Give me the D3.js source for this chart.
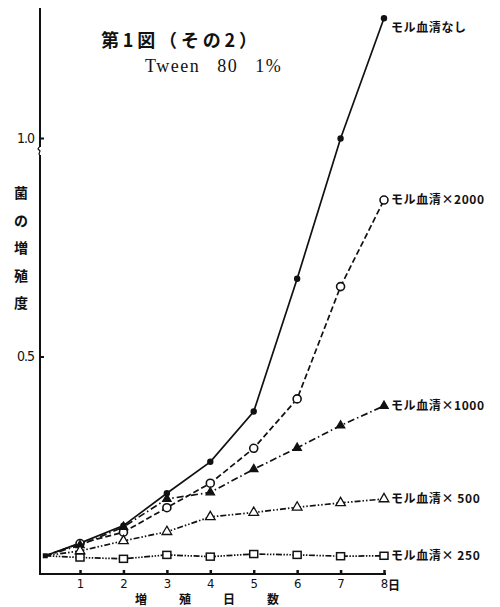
<!DOCTYPE html>
<html>
<head>
<meta charset="utf-8">
<script src="https://cdn.jsdelivr.net/npm/d3@7"></script>
<style>
  body { margin: 0; background: #fff; }
  svg { display: block; }
</style>
</head>
<body>
<div id="wrapper"></div>
<script>
// days of incubation (first point is the inoculum, plotted just right of the axis)
const days = [0.2, 1, 2, 3, 4, 5, 6, 7, 8]
const seriesNames = ['モル血清なし', 'モル血清×2000', 'モル血清×1000', 'モル血清× 500', 'モル血清× 250']
const valNone = [0.044, 0.073, 0.113, 0.187, 0.259, 0.374, 0.678, 0.999, 1.274]
const val2000 = [0.044, 0.072, 0.098, 0.154, 0.210, 0.290, 0.403, 0.660, 0.858]
const val1000 = [0.044, 0.068, 0.110, 0.174, 0.189, 0.242, 0.291, 0.342, 0.387]
const val500 = [0.044, 0.055, 0.078, 0.099, 0.133, 0.143, 0.155, 0.165, 0.174]
const val250 = [0.044, 0.040, 0.037, 0.046, 0.042, 0.048, 0.046, 0.043, 0.044]
const xTicks = [1, 2, 3, 4, 5, 6, 7, 8]
const xTickLabels = ['1', '2', '3', '4', '5', '6', '7', '8']
const yTicks = [0.5, 1.0]
const yTickLabels = ['0.5', '1.0']

let dimensions = { width: 500, height: 607 }

const styles = [
    { dash: null, marker: 'dot' },
    { dash: '6,3', marker: 'circle' },
    { dash: '7,3,1.5,3', marker: 'tri' },
    { dash: '6,2,1.5,2,1.5,2', marker: 'otri' },
    { dash: '6,1.5,1.5,1.5,1.5,1.5,1.5,1.5', marker: 'square' }
]
const labelDy = [14, 4, 4, 4, 4]

const jp = '"Noto Sans CJK JP", "Noto Sans", sans-serif'

let svg = d3.select('#wrapper')
    .append('svg')
    .attr('width', dimensions.width)
    .attr('height', dimensions.height)

let x = d3.scaleLinear().domain([0, 8]).range([36.6, 384])
let y = d3.scaleLinear().domain([0, 1]).range([575, 138])

//axes
svg.append('line')
    .attr('x1', 40).attr('x2', 40).attr('y1', 8).attr('y2', 575)
    .attr('stroke', '#111').attr('stroke-width', 2)
svg.append('line')
    .attr('x1', 39).attr('x2', 386).attr('y1', 574).attr('y2', 574)
    .attr('stroke', '#111').attr('stroke-width', 2)

// axis break mark
svg.append('rect').attr('x', 38).attr('y', 147).attr('width', 4).attr('height', 8).attr('fill', '#fff')
svg.append('path')
    .attr('d', 'M40,146 l-2,3 l2,2 l-1,3 l1,2')
    .attr('fill', 'none').attr('stroke', '#111').attr('stroke-width', 1.2)

let xAxis = svg.append('g')
    .attr('transform', 'translate(0,573)')
    .call(d3.axisBottom(x).tickValues(xTicks).tickSize(-3).tickFormat((d, i) => xTickLabels[i]))
xAxis.select('.domain').remove()
xAxis.selectAll('.tick line').attr('stroke', '#111').attr('stroke-width', 2.5)
xAxis.selectAll('.tick text')
    .attr('y', 6)
    .attr('font-family', '"Liberation Sans Narrow", "DejaVu Sans Condensed", sans-serif')
    .attr('font-size', '13px')
    .attr('fill', '#111')
    .attr('stroke', 'none')
// unit after the last tick
svg.append('text')
    .attr('x', x(8) + 4).attr('y', 590)
    .attr('font-family', jp)
    .attr('font-size', '12px')
    .attr('font-weight', 'bold')
    .attr('fill', '#111')
    .text('日')

let yAxis = svg.append('g')
    .attr('transform', 'translate(40,0)')
    .call(d3.axisLeft(y).tickValues(yTicks).tickSize(-4).tickPadding(8).tickFormat((d, i) => yTickLabels[i]))
yAxis.select('.domain').remove()
yAxis.selectAll('.tick line').attr('stroke', '#111').attr('stroke-width', 2)
yAxis.selectAll('.tick text')
    .attr('x', -6)
    .style('font-family', '"Liberation Sans Narrow", "DejaVu Sans Condensed", sans-serif')
    .style('font-size', '14px')
    .style('letter-spacing', '-1px')
    .attr('fill', '#111')

// axis titles
svg.append('g')
    .selectAll('text')
    .data(['菌', 'の', '増', '殖', '度'])
    .enter()
    .append('text')
    .attr('x', 21)
    .attr('y', (d, i) => 198 + i * 27.5)
    .attr('text-anchor', 'middle')
    .attr('font-family', jp)
    .attr('font-size', '14px')
    .attr('font-weight', 'bold')
    .attr('fill', '#111')
    .text(d => d)

svg.append('g')
    .selectAll('text')
    .data(['増', '殖', '日', '数'])
    .enter()
    .append('text')
    .attr('x', (d, i) => 141 + i * 44)
    .attr('y', 604)
    .attr('text-anchor', 'middle')
    .attr('font-family', jp)
    .attr('font-size', '12px')
    .attr('font-weight', 'bold')
    .attr('fill', '#111')
    .text(d => d)

// title
svg.append('text')
    .attr('x', 101).attr('y', 47)
    .attr('font-family', jp)
    .attr('font-size', '18px')
    .attr('font-weight', 'bold')
    .attr('textLength', 156)
    .attr('lengthAdjust', 'spacing')
    .attr('fill', '#111')
    .text('第1図（その2）')
svg.append('text')
    .attr('x', 145).attr('y', 72)
    .attr('font-family', '"Liberation Serif", "DejaVu Serif", serif')
    .attr('font-size', '18px')
    .attr('letter-spacing', '1.5px')
    .attr('word-spacing', '11px')
    .attr('fill', '#111')
    .text('Tween 80 1%')

// series
const allValues = [valNone, val2000, val1000, val500, val250]
const line = d3.line().x(d => x(d.day)).y(d => y(d.v))

allValues.forEach((vals, si) => {
    let pts = vals.map((v, i) => ({ day: days[i], v: v }))
    svg.append('path')
        .datum(pts)
        .attr('d', line)
        .attr('fill', 'none')
        .attr('stroke', '#111')
        .attr('stroke-width', 1.7)
        .attr('stroke-dasharray', styles[si].dash)

    let g = svg.append('g')
    let mk = pts.slice(1)
    let m = styles[si].marker
    if (m === 'dot') {
        g.selectAll('circle').data(mk).enter().append('circle')
            .attr('cx', d => x(d.day)).attr('cy', d => y(d.v)).attr('r', 3.2).attr('fill', '#111')
    } else if (m === 'circle') {
        g.selectAll('circle').data(mk).enter().append('circle')
            .attr('cx', d => x(d.day)).attr('cy', d => y(d.v)).attr('r', 4)
            .attr('fill', '#fff').attr('stroke', '#111').attr('stroke-width', 1.6)
    } else if (m === 'tri' || m === 'otri') {
        let sym = d3.symbol().type(d3.symbolTriangle).size(m === 'tri' ? 30 : 40)
        g.selectAll('path').data(mk).enter().append('path')
            .attr('transform', d => `translate(${x(d.day)},${y(d.v)})`)
            .attr('d', sym)
            .attr('fill', m === 'tri' ? '#111' : '#fff')
            .attr('stroke', '#111').attr('stroke-width', 1.3)
    } else {
        g.selectAll('rect').data(mk).enter().append('rect')
            .attr('x', d => x(d.day) - 4).attr('y', d => y(d.v) - 3.5)
            .attr('width', 8).attr('height', 7)
            .attr('fill', '#fff').attr('stroke', '#111').attr('stroke-width', 1.5)
    }

    // end label
    let last = pts[pts.length - 1]
    svg.append('text')
        .attr('x', x(last.day) + 7)
        .attr('y', y(last.v) + labelDy[si])
        .attr('font-family', jp)
        .attr('font-size', '12px')
        .attr('font-weight', 'bold')
        .attr('letter-spacing', '0.6px')
        .attr('fill', '#111')
        .text(seriesNames[si])
})

// inoculum point
svg.append('rect')
    .attr('x', x(days[0]) - 2.5).attr('y', y(valNone[0]) - 2.5)
    .attr('width', 5).attr('height', 5)
    .attr('fill', '#111')
</script>
</body>
</html>
